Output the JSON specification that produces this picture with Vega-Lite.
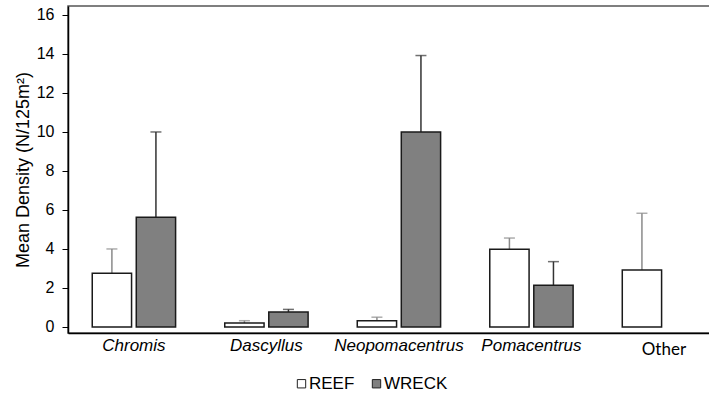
{
  "$schema": "https://vega.github.io/schema/vega-lite/v6.json",
  "width": 642,
  "height": 327,
  "autosize": {"type": "none"},
  "padding": {"left": 68, "top": 6, "right": 0, "bottom": 62},
  "background": "white",
  "config": {
    "view": {"stroke": "#555555", "strokeWidth": 1.5},
    "font": "Liberation Sans"
  },
  "data": {
    "values": [
      {"genus": "Chromis", "site": "REEF", "mean": 2.75, "upper": 4.0},
      {"genus": "Chromis", "site": "WRECK", "mean": 5.62, "upper": 10.0},
      {"genus": "Dascyllus", "site": "REEF", "mean": 0.2, "upper": 0.32},
      {"genus": "Dascyllus", "site": "WRECK", "mean": 0.77, "upper": 0.9},
      {"genus": "Neopomacentrus", "site": "REEF", "mean": 0.32, "upper": 0.5},
      {"genus": "Neopomacentrus", "site": "WRECK", "mean": 10.0, "upper": 13.92},
      {"genus": "Pomacentrus", "site": "REEF", "mean": 3.98, "upper": 4.56},
      {"genus": "Pomacentrus", "site": "WRECK", "mean": 2.14, "upper": 3.35},
      {"genus": "Other", "site": "REEF", "mean": 2.92, "upper": 5.83}
    ]
  },
  "encoding": {
    "x": {
      "field": "genus",
      "type": "nominal",
      "sort": ["Chromis", "Dascyllus", "Neopomacentrus", "Pomacentrus", "Other"],
      "scale": {"paddingInner": 0.371, "paddingOuter": 0.108, "align": 0.847},
      "axis": {
        "title": null,
        "ticks": false,
        "domainColor": "#000000",
        "domainWidth": 1.5,
        "labelAngle": 0,
        "labelFontSize": 17,
        "labelColor": "#000000",
        "labelPadding": {"condition": {"test": "datum.value === 'Other'", "value": 8}, "value": 4},
        "labelFont": {"condition": {"test": "datum.value === 'Other'", "value": "Lato"}, "value": "Liberation Sans"},
        "labelFontStyle": {"condition": {"test": "datum.value === 'Other'", "value": "normal"}, "value": "italic"}
      }
    },
    "xOffset": {
      "field": "site",
      "type": "nominal",
      "scale": {"domain": ["REEF", "WRECK"], "paddingInner": 0.107, "paddingOuter": 0}
    }
  },
  "layer": [
    {
      "transform": [{"filter": "datum.site === 'REEF'"}],
      "mark": {"type": "rule", "strokeWidth": 1.5, "color": "#8a8a8a"},
      "encoding": {
        "y": {"field": "mean", "type": "quantitative", "scale": {"domain": [-0.31, 16.46], "nice": false}},
        "y2": {"field": "upper"}
      }
    },
    {
      "transform": [{"filter": "datum.site === 'REEF'"}],
      "mark": {"type": "tick", "thickness": 1.5, "size": 11, "color": "#8a8a8a"},
      "encoding": {
        "y": {"field": "upper", "type": "quantitative"}
      }
    },
    {
      "transform": [{"filter": "datum.site === 'WRECK'"}],
      "mark": {"type": "rule", "strokeWidth": 1.5, "color": "#333333"},
      "encoding": {
        "y": {"field": "mean", "type": "quantitative"},
        "y2": {"field": "upper"}
      }
    },
    {
      "transform": [{"filter": "datum.site === 'WRECK'"}],
      "mark": {"type": "tick", "thickness": 1.5, "size": 11, "color": "#333333"},
      "encoding": {
        "y": {"field": "upper", "type": "quantitative"}
      }
    },
    {
      "mark": {"type": "bar", "stroke": "#1a1a1a", "strokeWidth": 1.5},
      "encoding": {
        "y": {
          "field": "mean",
          "type": "quantitative",
          "axis": {
            "title": "Mean Density (N/125m²)",
            "titleFontSize": 18,
            "titleFontWeight": "normal",
            "titleColor": "#000000",
            "titlePadding": 4,
            "values": [0, 2, 4, 6, 8, 10, 12, 14, 16],
            "grid": false,
            "tickSize": 6,
            "tickColor": "#000000",
            "tickWidth": 1,
            "domainColor": "#000000",
            "domainWidth": 1.5,
            "labelFontSize": 16,
            "labelColor": "#000000",
            "labelPadding": 8
          }
        },
        "fill": {
          "field": "site",
          "type": "nominal",
          "scale": {"domain": ["REEF", "WRECK"], "range": ["#ffffff", "#808080"]},
          "legend": {
            "orient": "none",
            "legendX": 225,
            "legendY": 369,
            "direction": "horizontal",
            "title": null,
            "symbolType": "square",
            "symbolSize": 70,
            "symbolStrokeColor": "#222222",
            "symbolStrokeWidth": 1,
            "labelFontSize": 17,
            "labelFont": "Liberation Sans",
            "labelColor": "#000000",
            "labelOffset": -1,
            "columnPadding": 13
          }
        }
      }
    }
  ]
}
